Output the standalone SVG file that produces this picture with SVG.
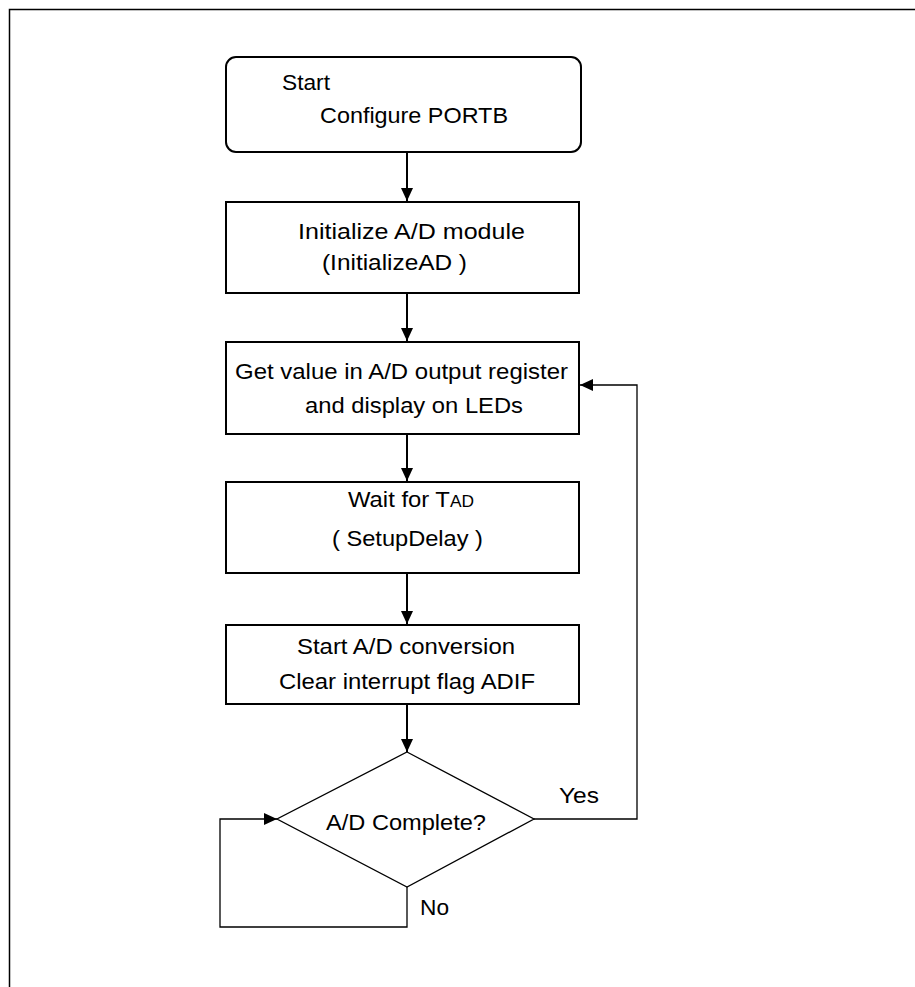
<svg xmlns="http://www.w3.org/2000/svg" width="915" height="987" viewBox="0 0 915 987">
<style>
  text { font-family: "Liberation Sans", Arial, sans-serif; font-size: 22px; fill: #000; }
  .box { fill: #fff; stroke: #000; stroke-width: 2; }
  .dia { fill: #fff; stroke: #000; stroke-width: 1.3; }
  .ln { fill: none; stroke: #000; stroke-width: 2; }
  .thin { fill: none; stroke: #000; stroke-width: 1.3; }
</style>
<defs>
  <marker id="ah" markerWidth="14" markerHeight="12" refX="13" refY="6" orient="auto" markerUnits="userSpaceOnUse">
    <path d="M0,0 L13,6 L0,12 Z" fill="#000"/>
  </marker>
</defs>
<rect width="915" height="987" fill="#fff"/>
<path d="M9.5,987 L9.5,9.5 L915,9.5" fill="none" stroke="#000" stroke-width="1.5"/>

<g id="connectors">
  <line class="ln" x1="407" y1="152" x2="407" y2="201" marker-end="url(#ah)"/>
  <line class="ln" x1="407" y1="293" x2="407" y2="341" marker-end="url(#ah)"/>
  <line class="ln" x1="407" y1="434" x2="407" y2="481" marker-end="url(#ah)"/>
  <line class="ln" x1="407" y1="573" x2="407" y2="624" marker-end="url(#ah)"/>
  <line class="ln" x1="407" y1="704" x2="407" y2="752" marker-end="url(#ah)"/>
  <polyline class="thin" points="534,819 637,819 637,385 580,385" marker-end="url(#ah)"/>
  <polyline class="thin" points="407,887 407,927 220,927 220,819 277,819" marker-end="url(#ah)"/>
  <text x="559" y="803" textLength="40" lengthAdjust="spacingAndGlyphs">Yes</text>
  <text x="420" y="915" textLength="29" lengthAdjust="spacingAndGlyphs">No</text>
</g>

<g id="start">
  <rect class="box" x="226" y="57" width="355" height="95" rx="10" ry="10" stroke-width="1.5"/>
  <text x="282" y="90" textLength="48" lengthAdjust="spacingAndGlyphs">Start</text>
  <text x="320" y="123" textLength="188" lengthAdjust="spacingAndGlyphs">Configure PORTB</text>
</g>

<g id="init">
  <rect class="box" x="226" y="202" width="353" height="91"/>
  <text x="298" y="239" textLength="227" lengthAdjust="spacingAndGlyphs">Initialize A/D module</text>
  <text x="322" y="270" textLength="145" lengthAdjust="spacingAndGlyphs">(InitializeAD )</text>
</g>

<g id="getvalue">
  <rect class="box" x="226" y="342" width="353" height="92"/>
  <text x="235" y="379" textLength="333" lengthAdjust="spacingAndGlyphs">Get value in A/D output register</text>
  <text x="305" y="413" textLength="218" lengthAdjust="spacingAndGlyphs">and display on LEDs</text>
</g>

<g id="wait">
  <rect class="box" x="226" y="482" width="353" height="91"/>
  <text x="348" y="507" textLength="126" lengthAdjust="spacingAndGlyphs">Wait for T<tspan font-size="16">AD</tspan></text>
  <text x="332" y="546" textLength="151" lengthAdjust="spacingAndGlyphs">( SetupDelay )</text>
</g>

<g id="startconv">
  <rect class="box" x="226" y="625" width="353" height="79"/>
  <text x="297" y="654" textLength="218" lengthAdjust="spacingAndGlyphs">Start A/D conversion</text>
  <text x="279" y="689" textLength="256" lengthAdjust="spacingAndGlyphs">Clear interrupt flag ADIF</text>
</g>

<g id="complete">
  <polygon class="dia" points="407,752 534,819 407,887 277,819"/>
  <text x="326" y="830" textLength="160" lengthAdjust="spacingAndGlyphs">A/D Complete?</text>
</g>
</svg>
